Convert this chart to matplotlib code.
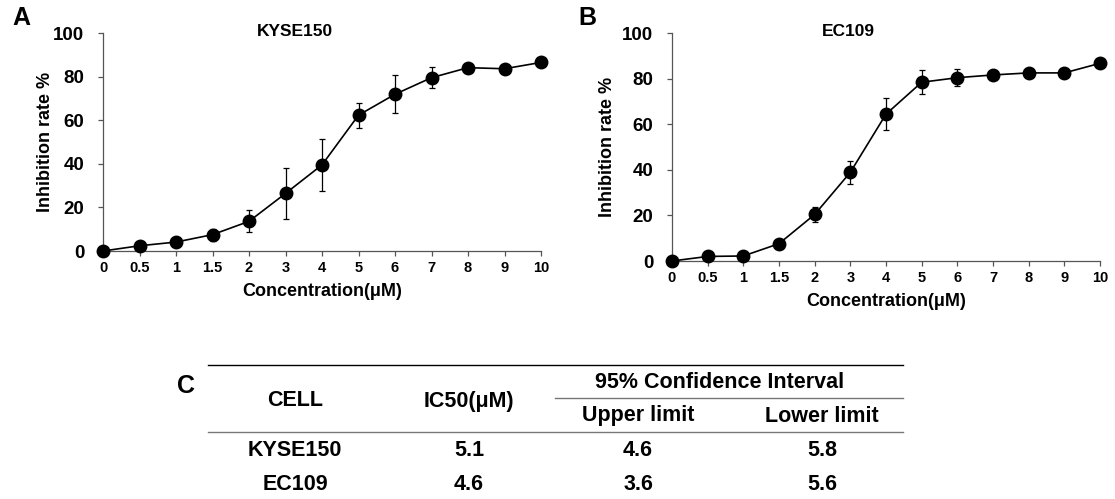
import matplotlib
matplotlib.use("Agg")
import matplotlib.pyplot as plt
from matplotlib.lines import Line2D

plt.rcParams["font.family"] = ["Liberation Sans", "DejaVu Sans"]
plt.rcParams["font.weight"] = "bold"

# concentration categories (evenly spaced on the axis)
conc_labels = ["0", "0.5", "1", "1.5", "2", "3", "4", "5", "6", "7", "8", "9", "10"]

# inhibition rate % and error (SD)
kyse150_mean = [0, 2.4, 4.1, 7.5, 13.6, 26.4, 39.5, 62.3, 71.9, 79.5, 84.1, 83.6, 86.5]
kyse150_err = [0, 0.5, 0.6, 2.8, 5.1, 11.6, 12.0, 5.7, 8.7, 4.9, 0.6, 0.6, 0.6]
ec109_mean = [0, 2.0, 2.2, 7.6, 20.4, 38.9, 64.4, 78.4, 80.4, 81.6, 82.5, 82.5, 86.7]
ec109_err = [0, 0.4, 0.4, 0.6, 3.3, 5.0, 7.0, 5.2, 3.6, 1.2, 0.6, 0.6, 0.6]

# IC50 table
cells = ["KYSE150", "EC109"]
ic50 = ["5.1", "4.6"]
upper_limit = ["4.6", "3.6"]
lower_limit = ["5.8", "5.6"]

W, H = 1115, 499
fig = plt.figure(figsize=(W / 100, H / 100), dpi=100)


def fx(px):
    return px / W


def fy(py):
    return 1 - py / H


def txt(x, y, s, size, **kw):
    fig.text(fx(x), fy(y), s, fontsize=size, fontweight="bold", ha="center", va="center", **kw)


def curve_panel(left, right, top, bottom, mean, err, title, title_x, letter, letter_x, ylab_x):
    ax = fig.add_axes([fx(left), fy(bottom), fx(right - left), fy(top) - fy(bottom)])
    x = list(range(len(conc_labels)))
    ax.errorbar(x, mean, yerr=err, color="black", lw=1.2, marker="o", ms=9,
                ecolor="black", elinewidth=0.9, capsize=2.5, capthick=0.9, clip_on=False, zorder=3)
    ax.set_xlim(0, len(conc_labels) - 1)
    ax.set_ylim(0, 100)
    ax.set_xticks(x)
    ax.set_xticklabels(conc_labels, fontsize=10.5, fontweight="bold")
    ax.set_yticks(range(0, 101, 20))
    ax.tick_params(axis="y", labelsize=13.5, length=3.5, width=0.9, color="#555555", pad=10)
    ax.tick_params(axis="x", length=3.5, width=0.9, color="#555555", pad=4)
    for s in ["top", "right"]:
        ax.spines[s].set_visible(False)
    for s in ["left", "bottom"]:
        ax.spines[s].set_color("#555555")
        ax.spines[s].set_linewidth(0.9)
    txt((left + right) / 2, bottom + 40, "Concentration(μM)", 13)
    txt(ylab_x, (top + bottom) / 2, "Inhibition rate %", 13, rotation=90)
    txt(title_x, 32, title, 12.5)
    txt(letter_x, 18, letter, 18)
    return ax


curve_panel(103, 541, 33, 251, kyse150_mean, kyse150_err, "KYSE150", 295, "A", 21, 46)
curve_panel(672, 1100, 33, 261, ec109_mean, ec109_err, "EC109", 848, "B", 587, 607)

# table C
txt(186, 386, "C", 18)


def hline(x0, x1, y, color, lw):
    fig.add_artist(Line2D([fx(x0), fx(x1)], [fy(y), fy(y)], color=color, lw=lw))


hline(208, 903, 365, "black", 1.0)
hline(555, 903, 398, "#777777", 1.0)
hline(208, 903, 432, "#777777", 1.0)

tfs = 15.5
col_x = [295, 469, 638, 822]
txt(col_x[0], 401, "CELL", tfs)
txt(col_x[1], 401, "IC50(μM)", tfs)
txt(720, 383, "95% Confidence Interval", tfs)
txt(col_x[2], 416, "Upper limit", tfs)
txt(col_x[3], 416, "Lower limit", tfs)

row_y = [451, 484]
for i, cell in enumerate(cells):
    vals = [cell, ic50[i], upper_limit[i], lower_limit[i]]
    for cx, v in zip(col_x, vals):
        txt(cx, row_y[i], v, tfs)

fig.savefig("out.png", dpi=100)
